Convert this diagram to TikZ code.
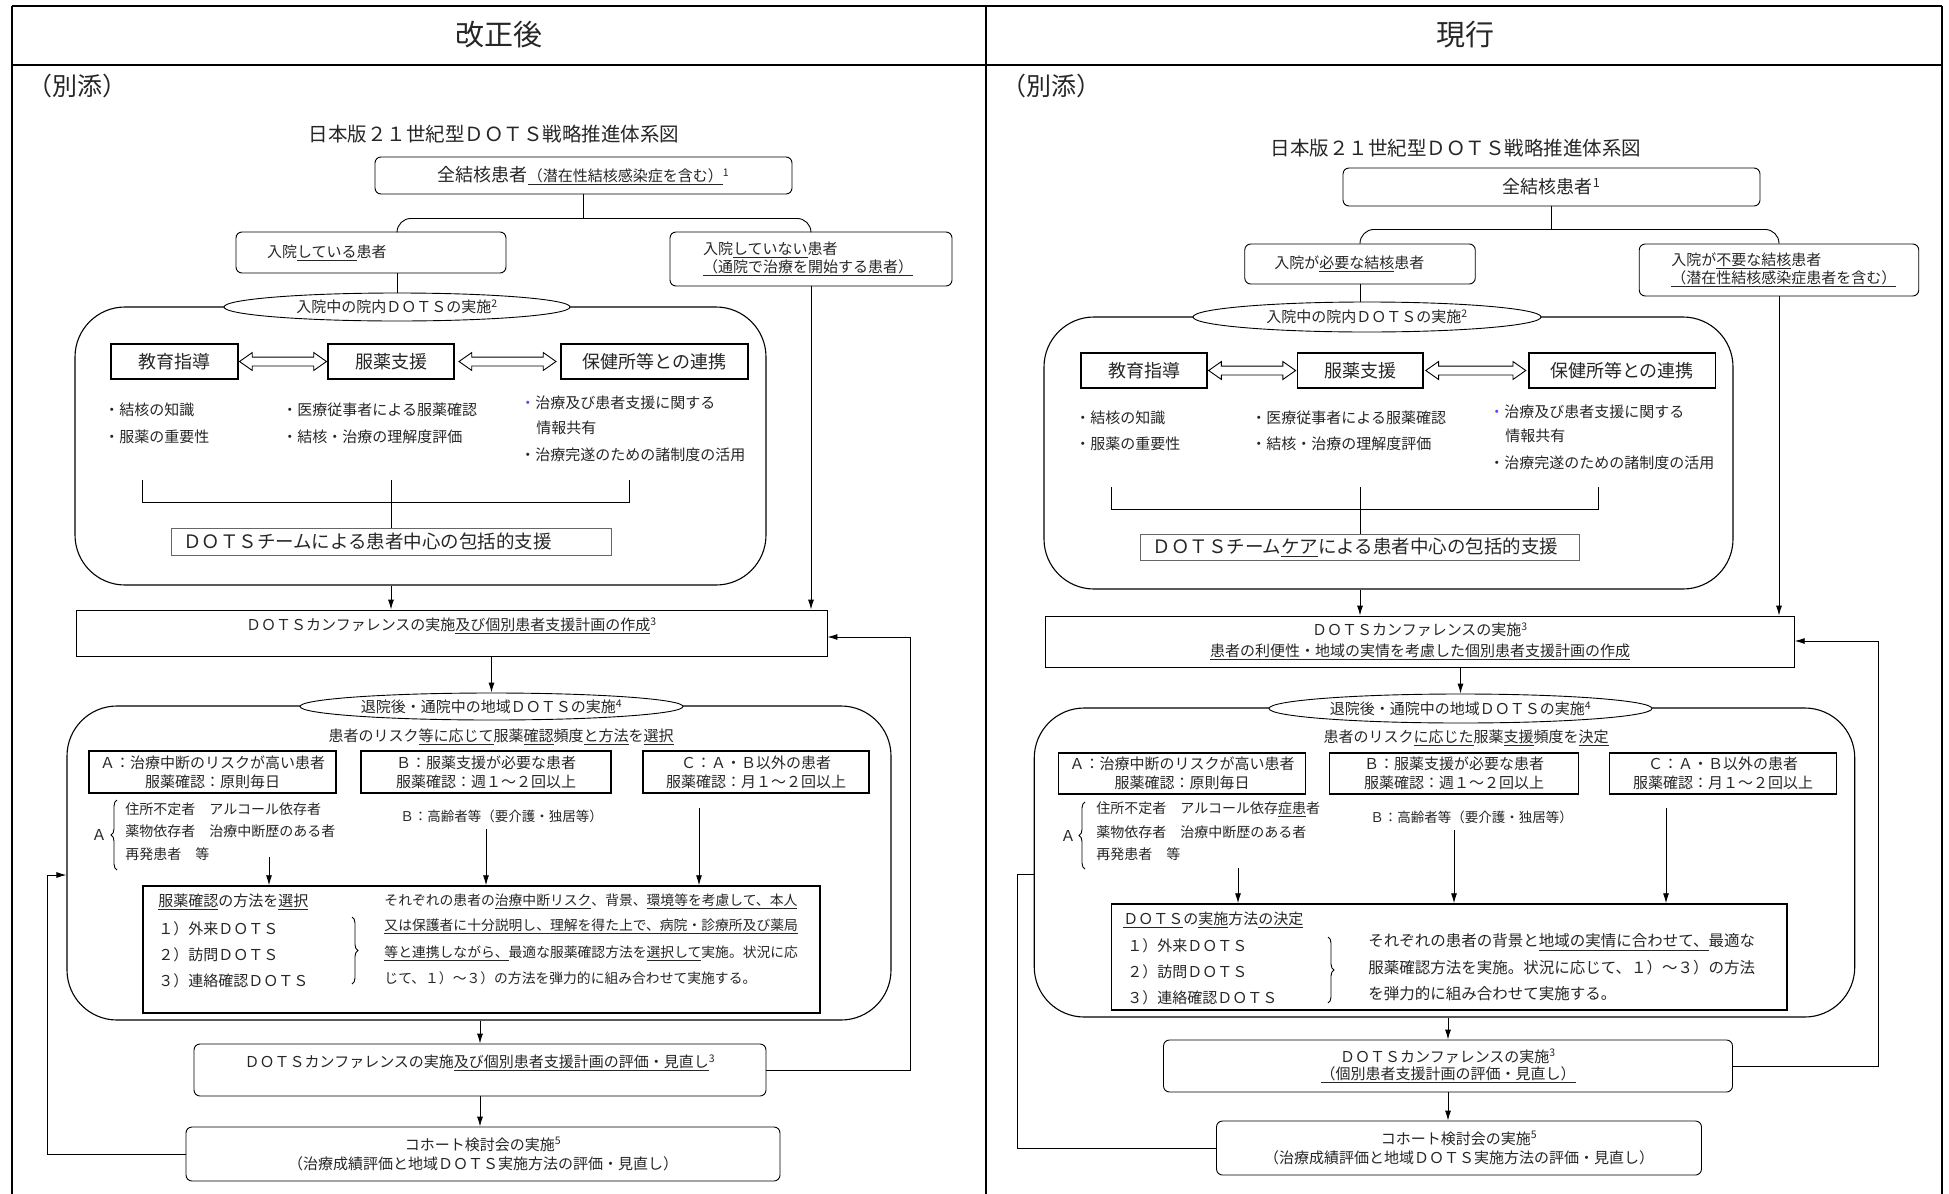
\documentclass[tikz,border=0pt]{standalone}
\usepackage{fontspec}
\setmainfont{Noto Sans CJK JP}
\usetikzlibrary{positioning,calc,arrows.meta,shapes.geometric,shapes.arrows,decorations.pathreplacing}
\tikzset{every node/.style={font=\fontsize{15}{19}\selectfont,text=black!85},
	 outer/.style={line width=2.5pt},
	 hd/.style={font=\fontsize{29}{31}\selectfont},
	 rbox/.style={draw,rounded corners=6pt,inner sep=0pt,fill=white},
	 sbox/.style={draw,line width=1.5pt,inner sep=0pt,fill=white},
	 region/.style={draw,line width=1.1pt,rounded corners=50pt,inner sep=0pt},
	 tag/.style={ellipse,draw,fill=white,inner sep=0pt},
	 dblarr/.style={double arrow,draw,fill=white,inner xsep=0pt,inner ysep=4pt,double arrow head extend=4.5pt,double arrow tip angle=70},
	 txt/.style={anchor=west,inner sep=0pt},
	 arr/.style={-{Latex[length=10pt,width=6pt]}},
	 brc/.style={decorate,decoration={brace,amplitude=6pt}}
	 }
\newcommand{\uln}[1]{\underline{\vphantom{（}#1}}

\begin{document}
\begin{tikzpicture}[x=1pt,y=-1pt,line width=0.9pt] % 改正後 / 現行
	\useasboundingbox (0,0) rectangle (1949,1194);
	\draw[outer] (12,6) -- (1942,6); \draw[outer] (12,65) -- (1942,65);
	\draw[outer] (12,6) -- (12,1194); \draw[outer] (986,6) -- (986,1194); \draw[outer] (1942,6) -- (1942,1194);
	\node[hd] (hnew) at (499,35) {改正後};
	\node[hd] (hcur) at (1465,35) {現行};

	% left column
	\node[txt,font=\fontsize{25}{28}\selectfont] (natt) at (27,86) {（別添）};
	\node[font=\fontsize{19.5}{22}\selectfont] (ntitle) at (494,134) {日本版２１世紀型ＤＯＴＳ戦略推進体系図};
	\node[rbox,minimum width=417pt,minimum height=37pt] (nall) at (583.5,175.5) {{\fontsize{18}{20}\selectfont 全結核患者}\uln{（潜在性結核感染症を含む）}\textsuperscript{1}};
	\node[rbox,inner xsep=31pt,text width=208pt,align=left,minimum height=41pt] (nin) at (371,252.5) {入院\uln{している}患者};
	\node[rbox,inner xsep=33pt,text width=216pt,align=left,minimum height=54pt,font=\fontsize{15}{18}\selectfont] (nout) at (811,259) {入院\uln{していない}患者\\\uln{（通院で治療を開始する患者）}};
	\node[region,minimum width=691pt,minimum height=278pt] (nreg1) at (420.5,446) {};
	\node[tag,minimum width=346pt,minimum height=28pt] (nhosp) at (397,307) {入院中の院内ＤＯＴＳの実施\textsuperscript{2}};
	\node[sbox,font=\fontsize{18}{20}\selectfont,minimum width=127pt,minimum height=35pt] (nedu) at (174.5,361.5) {教育指導};
	\node[sbox,font=\fontsize{18}{20}\selectfont,minimum width=126pt,minimum height=35pt] (nmed) at (391,361.5) {服薬支援};
	\node[sbox,font=\fontsize{18}{20}\selectfont,minimum width=187pt,minimum height=35pt] (nhc) at (654.5,361.5) {保健所等との連携};
	\node[dblarr,minimum height=87pt] (nar1) at ($(nedu.east)!.5!(nmed.west)$) {};
	\node[dblarr,minimum height=97pt] (nar2) at ($(nmed.east)!.5!(nhc.west)$) {};
	\node[txt] (nb1) at (104,410) {・結核の知識};
	\node[txt] (nb2) at (104,437) {・服薬の重要性};
	\node[txt] (nb3) at (282,410) {・医療従事者による服薬確認};
	\node[txt] (nb4) at (282,437) {・結核・治療の理解度評価};
	\node[txt] (nb5) at (520,403) {{\color{blue!70}・}治療及び患者支援に関する};
	\node[txt] (nb6) at (536,428) {情報共有};
	\node[txt] (nb7) at (520,455) {・治療完遂のための諸制度の活用};
	\node[draw=black!60,inner sep=0pt,inner xsep=12pt,text width=416pt,align=left,minimum height=27pt,font=\fontsize{18.5}{20}\selectfont] (nteam) at (391,541.5) {ＤＯＴＳチームによる患者中心の包括的支援};
	\node[draw,inner sep=0pt,minimum width=751pt,minimum height=46pt,label={[anchor=center,yshift=-16pt]north:ＤＯＴＳカンファレンスの実施\uln{及び個別患者支援計画の作成}\textsuperscript{3}}] (nconf) at (451.5,633) {};
	\node[region,minimum width=824pt,minimum height=314pt] (nreg2) at (479,863) {};
	\node[tag,minimum width=383pt,minimum height=27pt] (ncomm) at (491.5,706.5) {退院後・通院中の地域ＤＯＴＳの実施\textsuperscript{4}};
	\node (nsub) at (501,737) {患者のリスク\uln{等に応じて}服薬\uln{確認}頻度\uln{と方法}を\uln{選択}};
	\node[sbox,minimum width=247pt,minimum height=42pt,align=center] (nA) at (212.5,772) {Ａ：治療中断のリスクが高い患者\\服薬確認：原則毎日};
	\node[sbox,minimum width=250pt,minimum height=42pt,align=center] (nB) at (486,772) {Ｂ：服薬支援が必要な患者\\服薬確認：週１～２回以上};
	\node[sbox,minimum width=226pt,minimum height=42pt,align=center] (nC) at (756,772) {Ｃ：Ａ・Ｂ以外の患者\\服薬確認：月１～２回以上};
	\node (nAl) at (99,835) {Ａ};
	\node[txt,font=\fontsize{14}{16}\selectfont] (nA1) at (125,809) {住所不定者　アルコール依存者};
	\node[txt,font=\fontsize{14}{16}\selectfont] (nA2) at (125,831) {薬物依存者　治療中断歴のある者};
	\node[txt,font=\fontsize{14}{16}\selectfont] (nA3) at (125,854) {再発患者　等};
	\node[txt,font=\fontsize{13.5}{16}\selectfont] (nBl) at (400,816) {Ｂ：高齢者等（要介護・独居等）};
	\node[sbox,minimum width=677pt,minimum height=127pt] (nmeth) at (481.5,949.5) {};
	\node[txt] (nm0) at (158,902) {\uln{服薬確認}の方法を\uln{選択}};
	\node[txt] (nm1) at (158,929) {１）外来ＤＯＴＳ};
	\node[txt] (nm2) at (158,955) {２）訪問ＤＯＴＳ};
	\node[txt] (nm3) at (158,981) {３）連絡確認ＤＯＴＳ};
	\node[txt,font=\fontsize{13.8}{16}\selectfont] (np1) at (384,901) {それぞれの患者の\uln{治療中断リスク}、背景、\uln{環境等を考慮して、本人}};
	\node[txt,font=\fontsize{13.8}{16}\selectfont] (np2) at (384,926) {\uln{又は保護者に十分説明し、理解を得た上で、病院・診療所及び薬局}};
	\node[txt,font=\fontsize{13.8}{16}\selectfont] (np3) at (384,953) {\uln{等と連携しながら、}最適な服薬確認方法を\uln{選択して}実施。状況に応};
	\node[txt,font=\fontsize{13.8}{16}\selectfont] (np4) at (384,978) {じて、１）～３）の方法を弾力的に組み合わせて実施する。};
	\node[rbox,minimum width=572pt,minimum height=52pt,label={[anchor=center,yshift=-19pt]north:ＤＯＴＳカンファレンスの実施\uln{及び個別患者支援計画の評価・見直し}\textsuperscript{3}}] (nrev) at (480,1070) {};
	\node[rbox,minimum width=594pt,minimum height=54pt,align=center] (ncoh) at (483,1154) {コホート検討会の実施\textsuperscript{5}\\（治療成績評価と地域ＤＯＴＳ実施方法の評価・見直し）};
	\coordinate (nAs) at (269,857); \coordinate (nBs) at (486,829); \coordinate (nCs) at (699,808);
	\coordinate (nfbr) at (910,637); \coordinate (nfbl) at (47,875);
	\draw (nall.south) -- ++(0,24) coordinate (nsplit);
	\draw[rounded corners=14pt] (nhosp.north |- nin.north) |- (nsplit) -| (nout.north);
	\draw (nhosp.north |- nin.south) -- (nhosp.north);
	\draw (142,480) |- (629,502) -- (629,480); \draw (nteam.north) -- ++(0,-48);
	\draw[arr] (nteam.south |- nreg1.south) -- (nteam.south |- nconf.north);
	\draw[arr] (nout.south) -- (nout.south |- nconf.north);
	\draw[arr] (ncomm.north |- nconf.south) -- (ncomm.north);
	\draw[brc] (117,870) -- (117,800);
	\draw[arr] (nAs) -- (nAs |- nmeth.north); \draw[arr] (nBs) -- (nBs |- nmeth.north); \draw[arr] (nCs) -- (nCs |- nmeth.north);
	\draw[brc] (352,917) -- (352,984);
	\draw[arr] (nrev.north |- nreg2.south) -- (nrev.north);
	\draw[arr] (nrev.south) -- (nrev.south |- ncoh.north);
	\draw[arr] (nrev.east) -| (nfbr) -- (nfbr -| nconf.east);
	\draw[arr] (ncoh.west) -| (nfbl) -- (nfbl -| nreg2.west);

	% right column
	\node[txt,font=\fontsize{25}{28}\selectfont] (catt) at (1001,86) {（別添）};
	\node[font=\fontsize{19.5}{22}\selectfont] (ctitle) at (1456,148) {日本版２１世紀型ＤＯＴＳ戦略推進体系図};
	\node[rbox,minimum width=417pt,minimum height=38pt,font=\fontsize{18}{20}\selectfont] (call) at (1551.5,187) {全結核患者\textsuperscript{1}};
	\node[rbox,inner xsep=29.5pt,text width=171.5pt,align=left,minimum height=40pt] (cin) at (1360,264) {入院が\uln{必要な結核}患者};
	\node[rbox,inner xsep=32pt,text width=215.5pt,align=left,minimum height=52pt,font=\fontsize{15}{18}\selectfont] (cout) at (1779,270) {入院が\uln{不要な結核}患者\\\uln{（潜在性結核感染症患者を含む）}};
	\node[region,minimum width=689pt,minimum height=272pt] (creg1) at (1388.5,453) {};
	\node[tag,minimum width=348pt,minimum height=30pt] (chosp) at (1367,317) {入院中の院内ＤＯＴＳの実施\textsuperscript{2}};
	\node[sbox,font=\fontsize{18}{20}\selectfont,minimum width=126pt,minimum height=35pt] (cedu) at (1144,370.5) {教育指導};
	\node[sbox,font=\fontsize{18}{20}\selectfont,minimum width=125.5pt,minimum height=35pt] (cmed) at (1360,370.5) {服薬支援};
	\node[sbox,font=\fontsize{18}{20}\selectfont,minimum width=186.5pt,minimum height=35pt] (chc) at (1622,370.5) {保健所等との連携};
	\node[dblarr,minimum height=87pt] (car1) at ($(cedu.east)!.5!(cmed.west)$) {};
	\node[dblarr,minimum height=100pt] (car2) at ($(cmed.east)!.5!(chc.west)$) {};
	\node[txt] (cb1) at (1075,418) {・結核の知識};
	\node[txt] (cb2) at (1075,444) {・服薬の重要性};
	\node[txt] (cb3) at (1251,418) {・医療従事者による服薬確認};
	\node[txt] (cb4) at (1251,444) {・結核・治療の理解度評価};
	\node[txt] (cb5) at (1489,412) {{\color{blue!70}・}治療及び患者支援に関する};
	\node[txt] (cb6) at (1505,436) {情報共有};
	\node[txt] (cb7) at (1489,463) {・治療完遂のための諸制度の活用};
	\node[draw=black!60,inner sep=0pt,inner xsep=12pt,text width=415pt,align=left,minimum height=26pt,font=\fontsize{18.5}{20}\selectfont] (cteam) at (1360,547) {ＤＯＴＳチーム\uln{ケア}による患者中心の包括的支援};
	\node[draw,inner sep=0pt,minimum width=748.5pt,minimum height=51pt,align=center,font=\fontsize{15}{21}\selectfont] (cconf) at (1420,641.5) {ＤＯＴＳカンファレンスの実施\textsuperscript{3}\\\uln{患者の利便性・地域の実情を考慮した個別患者支援計画の作成}};
	\node[region,minimum width=820.5pt,minimum height=309pt] (creg2) at (1444.5,862.5) {};
	\node[tag,minimum width=383pt,minimum height=29pt] (ccomm) at (1460.5,708.5) {退院後・通院中の地域ＤＯＴＳの実施\textsuperscript{4}};
	\node (csub) at (1466,738) {患者のリスク\uln{に応じた}服薬\uln{支援}頻度を\uln{決定}};
	\node[sbox,minimum width=247pt,minimum height=41pt,align=center] (cA) at (1182,773.5) {Ａ：治療中断のリスクが高い患者\\服薬確認：原則毎日};
	\node[sbox,minimum width=249pt,minimum height=41pt,align=center] (cB) at (1454,773.5) {Ｂ：服薬支援が必要な患者\\服薬確認：週１～２回以上};
	\node[sbox,minimum width=227pt,minimum height=41pt,align=center] (cC) at (1723,773.5) {Ｃ：Ａ・Ｂ以外の患者\\服薬確認：月１～２回以上};
	\node (cAl) at (1068,836) {Ａ};
	\node[txt,font=\fontsize{14}{16}\selectfont] (cA1) at (1096,809) {住所不定者　アルコール依存\uln{症患}者};
	\node[txt,font=\fontsize{14}{16}\selectfont] (cA2) at (1096,832) {薬物依存者　治療中断歴のある者};
	\node[txt,font=\fontsize{14}{16}\selectfont] (cA3) at (1096,854) {再発患者　等};
	\node[txt,font=\fontsize{13.5}{16}\selectfont] (cBl) at (1370,817) {Ｂ：高齢者等（要介護・独居等）};
	\node[sbox,minimum width=675.5pt,minimum height=106pt] (cmeth) at (1449.3,957) {};
	\node[txt] (cm0) at (1123,920) {\uln{ＤＯＴＳ}の\uln{実施}方法\uln{の決定}};
	\node[txt] (cm1) at (1127,946) {１）外来ＤＯＴＳ};
	\node[txt] (cm2) at (1127,972) {２）訪問ＤＯＴＳ};
	\node[txt] (cm3) at (1127,998) {３）連絡確認ＤＯＴＳ};
	\node[txt,font=\fontsize{15.5}{18}\selectfont] (cp1) at (1368,942) {それぞれの患者の背景と\uln{地域の実情に合わせて、}最適な};
	\node[txt,font=\fontsize{15.5}{18}\selectfont] (cp2) at (1368,968) {服薬確認方法を実施。状況に応じて、１）～３）の方法};
	\node[txt,font=\fontsize{15.5}{18}\selectfont] (cp3) at (1368,994) {を弾力的に組み合わせて実施する。};
	\node[rbox,minimum width=569pt,minimum height=52pt,align=center,font=\fontsize{15}{17}\selectfont] (crev) at (1448,1066) {ＤＯＴＳカンファレンスの実施\textsuperscript{3}\\\uln{（個別患者支援計画の評価・見直し）}};
	\node[rbox,minimum width=485pt,minimum height=54pt,align=center] (ccoh) at (1459,1148) {コホート検討会の実施\textsuperscript{5}\\（治療成績評価と地域ＤＯＴＳ実施方法の評価・見直し）};
	\coordinate (cAs) at (1238,868); \coordinate (cBs) at (1454,830); \coordinate (cCs) at (1666,808);
	\coordinate (cfbr) at (1878,641); \coordinate (cfbl) at (1017,874);
	\draw (call.south) -- ++(0,23) coordinate (csplit);
	\draw[rounded corners=14pt] (cin.north) |- (csplit) -| (cout.north);
	\draw (cin.south) -- (cin.south |- chosp.north);
	\draw (1111,487) |- (1598,509) -- (1598,487); \draw (cteam.north) -- ++(0,-47);
	\draw[arr] (cteam.south |- creg1.south) -- (cteam.south |- cconf.north);
	\draw[arr] (cout.south) -- (cout.south |- cconf.north);
	\draw[arr] (ccomm.north |- cconf.south) -- (ccomm.north);
	\draw[brc] (1085,869) -- (1085,802);
	\draw[arr] (cAs) -- (cAs |- cmeth.north); \draw[arr] (cBs) -- (cBs |- cmeth.north); \draw[arr] (cCs) -- (cCs |- cmeth.north);
	\draw[brc] (1328,937) -- (1328,1003);
	\draw[arr] (crev.north |- creg2.south) -- (crev.north);
	\draw[arr] (crev.south) -- (crev.south |- ccoh.north);
	\draw[arr] (crev.east) -| (cfbr) -- (cfbr -| cconf.east);
	\draw (ccoh.west) -| (cfbl) -- (cfbl -| creg2.west);
\end{tikzpicture}
\end{document}
